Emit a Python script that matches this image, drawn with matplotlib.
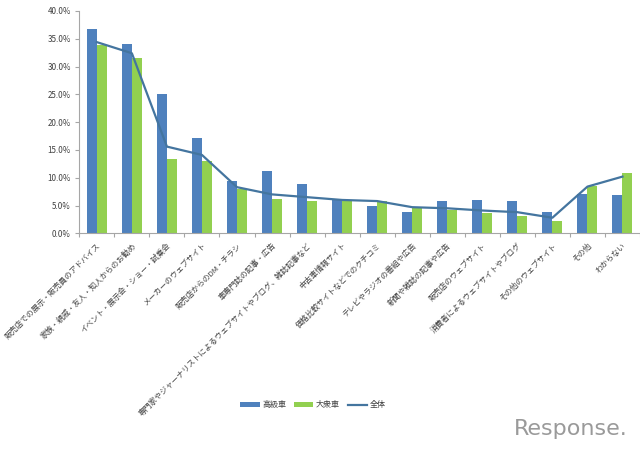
import matplotlib

matplotlib.use("Agg")
import matplotlib.pyplot as plt
import numpy as np

plt.rcParams["font.family"] = ["Noto Sans CJK JP", "DejaVu Sans"]

categories = [
    "販売店での展示・販売員のアドバイス",
    "家族・親戚・友人・知人からのお勧め",
    "イベント・展示会・ショー・試乗会",
    "メーカーのウェブサイト",
    "販売店からのDM・チラシ",
    "車専門誌の記事・広告",
    "専門家やジャーナリストによるウェブサイトやブログ、雑誌記事など",
    "中古車情報サイト",
    "価格比較サイトなどでのクチコミ",
    "テレビやラジオの番組や広告",
    "新聞や雑誌の記事や広告",
    "販売店のウェブサイト",
    "消費者によるウェブサイトやブログ",
    "その他のウェブサイト",
    "その他",
    "わからない",
]
luxury = [36.7, 34.0, 25.1, 17.1, 9.4, 11.2, 8.9, 6.1, 5.0, 3.9, 5.9, 6.0, 5.8, 3.9, 7.1, 6.9]
mass = [33.8, 31.6, 13.3, 13.0, 8.0, 6.1, 5.9, 5.8, 5.9, 4.7, 4.2, 3.6, 3.1, 2.2, 8.6, 10.9]
overall = [34.4, 32.4, 15.6, 14.1, 8.3, 7.0, 6.5, 6.0, 5.8, 4.7, 4.5, 4.1, 3.8, 2.8, 8.4, 10.2]
yticks = [0, 5, 10, 15, 20, 25, 30, 35, 40]

BLUE = "#4f81bd"
GREEN = "#92d050"
LINE = "#44759f"
TEXT = "#404040"
AXIS = "#a6a6a6"

fig = plt.figure(figsize=(6.4, 4.5), dpi=100)
ax = fig.add_axes([79.3 / 640, 1 - 233.3 / 450, 560.7 / 640, 222.3 / 450])

x = np.arange(len(categories))
w = 0.285
b1 = ax.bar(x - w / 2, luxury, w, color=BLUE, label="高級車")
b2 = ax.bar(x + w / 2, mass, w, color=GREEN, label="大衆車")
l1 = ax.plot(x, overall, color=LINE, lw=1.6, label="全体", solid_joinstyle="round")[0]

ax.set_xlim(-0.5, len(categories) - 0.5)
ax.set_ylim(0, 40)
ax.set_yticks(yticks)
ax.set_yticklabels([f"{v:.1f}%" for v in yticks], fontsize=5.8, color=TEXT)

# ticks sit between the categories, labels under the centres
ax.set_xticks(np.arange(len(categories) + 1) - 0.5)
ax.set_xticklabels([])
ax.set_xticks(x, minor=True)
ax.set_xticklabels(categories, minor=True, rotation=45, ha="right", va="top",
                   rotation_mode="anchor", fontsize=5.6, color=TEXT)
ax.tick_params(axis="x", which="minor", length=0, pad=6)
ax.tick_params(axis="both", which="major", length=3, width=0.8, color=AXIS)
ax.tick_params(axis="y", pad=3)

ax.spines["top"].set_visible(False)
ax.spines["right"].set_visible(False)
ax.spines["left"].set_color(AXIS)
ax.spines["bottom"].set_color(AXIS)

fig.legend(
    handles=[b1, b2, l1],
    loc="center",
    bbox_to_anchor=(313 / 640, 1 - 405 / 450),
    ncol=3,
    frameon=False,
    fontsize=5.8,
    labelcolor=TEXT,
    handlelength=2.4,
    handleheight=0.5,
    handletextpad=0.3,
    columnspacing=1.0,
)

# watermark
fig.text(1 - 12 / 640, 1 - 429 / 450, "Response.", ha="right", va="center",
         fontsize=16, color="#9a9a9a", family="DejaVu Sans")

fig.savefig("out.png", dpi=100)
plt.close(fig)
